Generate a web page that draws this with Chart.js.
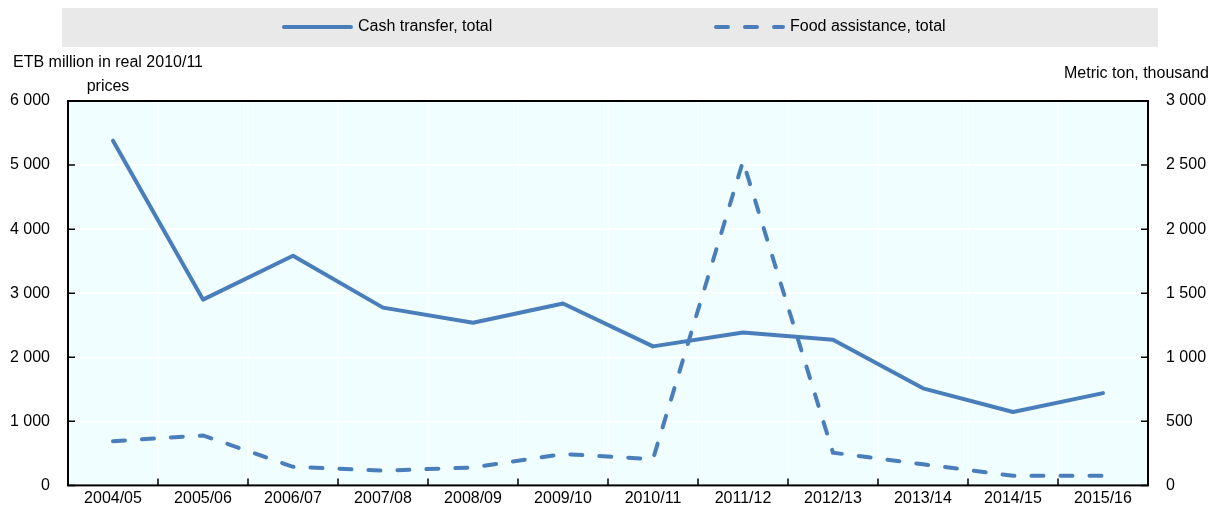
<!DOCTYPE html>
<html>
<head>
<meta charset="utf-8">
<script src="https://cdn.jsdelivr.net/npm/chart.js@4.4.0/dist/chart.umd.min.js"></script>
<style>
  html, body { margin: 0; padding: 0; background: #fff; }
  #wrap { width: 1220px; height: 513px; position: relative; }
</style>
</head>
<body>
<div id="wrap"><canvas id="chart" width="1220" height="513"></canvas></div>
<script>
const years = ['2004/05', '2005/06', '2006/07', '2007/08', '2008/09', '2009/10',
  '2010/11', '2011/12', '2012/13', '2013/14', '2014/15', '2015/16'];

// ETB million, real 2010/11 prices (left axis)
const cashTransfer = [5380, 2900, 3585, 2775, 2540, 2840, 2170, 2385, 2275, 1515, 1145, 1440];

// Metric ton, thousand (right axis)
const foodAssistance = [345, 390, 145, 115, 140, 245, 205, 2530, 255, 165, 75, 75];

const leftTitle = ['ETB million in real 2010/11', 'prices'];
const rightTitle = 'Metric ton, thousand';

const blue = '#4A7EBB';
const family = '"Liberation Sans", Arial, sans-serif';
const font = '16px ' + family;

function spaced(v) {
  return String(v).replace(/\B(?=(\d{3})+(?!\d))/g, ' ');
}

// background, inward ticks, frame, legend and axis titles
const decor = {
  id: 'decor',
  beforeDraw(chart) {
    const {ctx, chartArea: a} = chart;
    ctx.save();
    ctx.fillStyle = '#F0FEFF';
    ctx.fillRect(a.left, a.top, a.right - a.left, a.bottom - a.top);
    ctx.restore();
  },
  afterDraw(chart) {
    const {ctx, chartArea: a, scales} = chart;
    ctx.save();

    // frame
    ctx.strokeStyle = '#000';
    ctx.lineWidth = 2;
    ctx.strokeRect(a.left, a.top, a.right - a.left, a.bottom - a.top);

    // ticks pointing inward
    ctx.lineWidth = 1.5;
    ctx.beginPath();
    scales.y.ticks.forEach((t, i) => {
      const y = scales.y.getPixelForTick(i);
      ctx.moveTo(a.left, y); ctx.lineTo(a.left + 7, y);
    });
    scales.y1.ticks.forEach((t, i) => {
      const y = scales.y1.getPixelForTick(i);
      ctx.moveTo(a.right, y); ctx.lineTo(a.right - 7, y);
    });
    for (let i = 1; i < years.length; i++) {
      const x = (scales.x.getPixelForValue(i - 1) + scales.x.getPixelForValue(i)) / 2;
      ctx.moveTo(x, a.bottom); ctx.lineTo(x, a.bottom - 7);
    }
    ctx.stroke();

    // axis titles
    ctx.fillStyle = '#000';
    ctx.font = font;
    ctx.textBaseline = 'middle';
    ctx.textAlign = 'center';
    ctx.fillText(leftTitle[0], 108, 63);
    ctx.fillText(leftTitle[1], 108, 87);
    ctx.textAlign = 'right';
    ctx.fillText(rightTitle, 1209, 74);

    // legend
    ctx.fillStyle = '#E9E9E9';
    ctx.fillRect(62, 8, 1096, 39);
    const xs = [284, 716];
    chart.data.datasets.forEach((ds, i) => {
      const x = xs[i];
      ctx.strokeStyle = ds.borderColor;
      ctx.lineWidth = 4;
      ctx.lineCap = 'round';
      ctx.setLineDash(ds.borderDash || []);
      ctx.beginPath();
      ctx.moveTo(x, 27); ctx.lineTo(x + 67, 27);
      ctx.stroke();
      ctx.setLineDash([]);
      ctx.fillStyle = '#000';
      ctx.textAlign = 'left';
      ctx.fillText(ds.label, x + 74, 27);
    });
    ctx.restore();
  }
};

new Chart(document.getElementById('chart'), {
  type: 'line',
  data: {
    labels: years,
    datasets: [
      {
        label: 'Cash transfer, total',
        data: cashTransfer,
        yAxisID: 'y',
        borderColor: blue,
        borderWidth: 4,
        pointRadius: 0,
        tension: 0,
        borderJoinStyle: 'round',
        borderCapStyle: 'round'
      },
      {
        label: 'Food assistance, total',
        data: foodAssistance,
        yAxisID: 'y1',
        borderColor: blue,
        borderWidth: 4,
        borderDash: [12, 17],
        pointRadius: 0,
        tension: 0,
        borderCapStyle: 'round'
      }
    ]
  },
  options: {
    responsive: false,
    animation: false,
    layout: { padding: { top: 101, left: 0, right: 0, bottom: 0 } },
    plugins: { legend: { display: false }, tooltip: { enabled: false } },
    scales: {
      x: {
        offset: true,
        grid: { offset: true, color: '#fff', lineWidth: 1.5, drawTicks: false },
        border: { display: false },
        ticks: { color: '#000', font: { family, size: 16 }, padding: 4, maxRotation: 0, autoSkip: false },
        afterFit(s) { s.height = 25; }
      },
      y: {
        position: 'left',
        min: 0, max: 6000,
        grid: { color: '#fff', lineWidth: 1.5, drawTicks: false },
        border: { display: false },
        ticks: { stepSize: 1000, color: '#000', padding: 18, font: { family, size: 16 }, callback: v => spaced(v) },
        afterFit(s) { s.width = 68; }
      },
      y1: {
        position: 'right',
        min: 0, max: 3000,
        grid: { drawOnChartArea: false, drawTicks: false },
        border: { display: false },
        ticks: { stepSize: 500, color: '#000', padding: 18, font: { family, size: 16 }, callback: v => spaced(v) },
        afterFit(s) { s.width = 72; }
      }
    }
  },
  plugins: [decor]
});
</script>
</body>
</html>
